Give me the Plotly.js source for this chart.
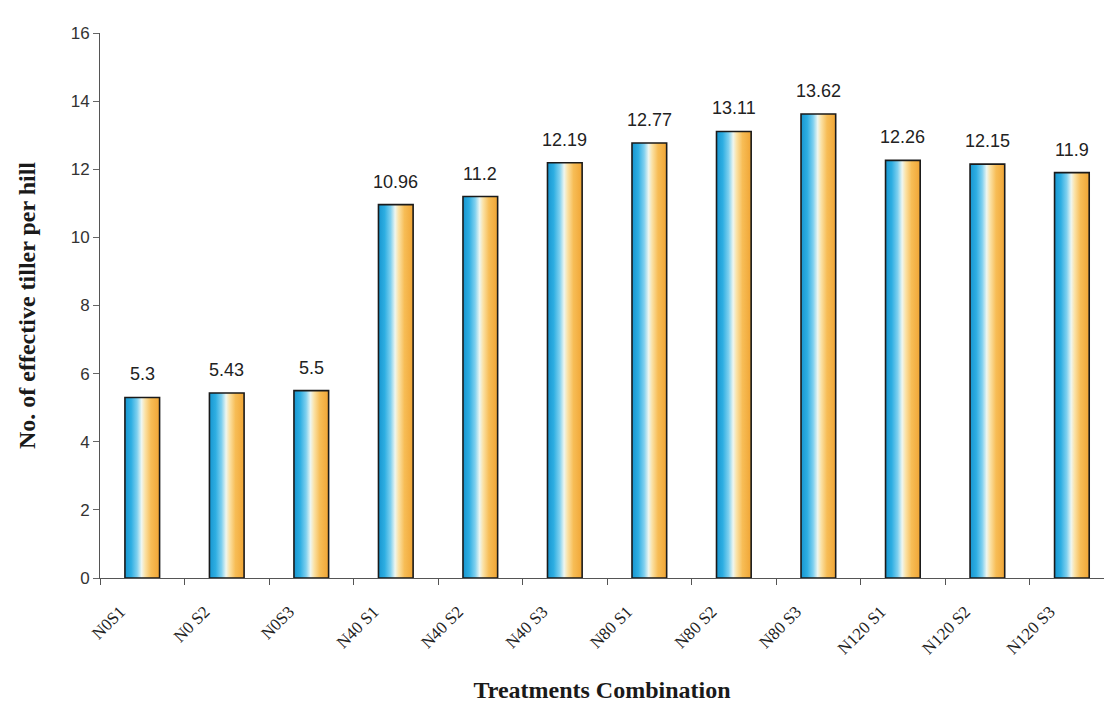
<!DOCTYPE html>
<html>
<head>
<meta charset="utf-8">
<script src="https://cdn.plot.ly/plotly-3.0.1.min.js"></script>
<style>
  html, body { margin: 0; padding: 0; background: #ffffff; }
  #chart { width: 1104px; height: 709px; }
</style>
</head>
<body>
<div id="chart"></div>
<script>
// Effective tillers per hill for each N x S treatment combination
const treatments = ["N0S1", "N0 S2", "N0S3", "N40 S1", "N40 S2", "N40 S3",
                    "N80 S1", "N80 S2", "N80 S3", "N120 S1", "N120 S2", "N120 S3"];
const tillers = [5.3, 5.43, 5.5, 10.96, 11.2, 12.19, 12.77, 13.11, 13.62, 12.26, 12.15, 11.9];
const yTicks = [0, 2, 4, 6, 8, 10, 12, 14, 16];

const bars = {
  type: "bar",
  x: treatments,
  y: tillers,
  width: 0.41,
  marker: {
    color: "#f5b040",
    line: { color: "#1a1a1a", width: 1.6 }
  },
  hoverinfo: "x+y"
};

// value labels above each bar
const labels = treatments.map((t, i) => ({
  x: t,
  y: tillers[i],
  text: String(tillers[i]),
  showarrow: false,
  yanchor: "bottom",
  yshift: 11,
  font: { family: "Liberation Sans, Arial, sans-serif", size: 18, color: "#222222" }
}));

const layout = {
  width: 1104,
  height: 709,
  margin: { l: 100, r: 0, t: 33, b: 131 },
  paper_bgcolor: "#ffffff",
  plot_bgcolor: "#ffffff",
  showlegend: false,
  xaxis: {
    type: "category",
    range: [-0.5, 11.38],
    showline: true,
    linecolor: "#555555",
    linewidth: 1,
    ticks: "outside",
    tickson: "boundaries",
    ticklen: 6,
    tickcolor: "#555555",
    tickangle: -45,
    ticklabelstandoff: 16,
    ticklabelshift: -22,
    tickfont: { family: "Liberation Serif, Times New Roman, serif", size: 17, color: "#222222" },
    showgrid: false,
    zeroline: false,
    title: {
      text: "<b>Treatments Combination</b>",
      font: { family: "Liberation Serif, Times New Roman, serif", size: 24, color: "#1a1a1a" },
      standoff: 24
    }
  },
  yaxis: {
    range: [0, 16],
    tickvals: yTicks,
    ticktext: yTicks.map(String),
    showline: true,
    linecolor: "#555555",
    linewidth: 1,
    ticks: "outside",
    ticklen: 6,
    tickcolor: "#666666",
    tickfont: { family: "Liberation Sans, Arial, sans-serif", size: 17, color: "#333333" },
    showgrid: false,
    zeroline: false,
    title: {
      text: "<b>No. of effective tiller per hill</b>",
      font: { family: "Liberation Serif, Times New Roman, serif", size: 24, color: "#1a1a1a" },
      standoff: 28
    }
  },
  annotations: labels
};

Plotly.newPlot("chart", [bars], layout, { displayModeBar: false, staticPlot: true }).then(gd => {
  // horizontal blue -> white -> orange gradient for the bar fills
  const svgNS = "http://www.w3.org/2000/svg";
  const svg = gd.querySelector(".main-svg");
  let defs = svg.querySelector("defs");
  if (!defs) { defs = document.createElementNS(svgNS, "defs"); svg.insertBefore(defs, svg.firstChild); }
  const grad = document.createElementNS(svgNS, "linearGradient");
  grad.setAttribute("id", "barFill");
  grad.setAttribute("x1", "0"); grad.setAttribute("y1", "0");
  grad.setAttribute("x2", "1"); grad.setAttribute("y2", "0");
  const stops = [
    [0.00, "#1796d0"],
    [0.18, "#2eaee2"],
    [0.35, "#7fd0ef"],
    [0.48, "#eef6f0"],
    [0.58, "#fbe2a6"],
    [0.75, "#f7bd56"],
    [1.00, "#f0a535"]
  ];
  stops.forEach(([o, c]) => {
    const s = document.createElementNS(svgNS, "stop");
    s.setAttribute("offset", o);
    s.setAttribute("stop-color", c);
    grad.appendChild(s);
  });
  defs.appendChild(grad);
  gd.querySelectorAll(".bars .point path").forEach(p => {
    p.style.fill = "url(#barFill)";
  });
});
</script>
</body>
</html>
